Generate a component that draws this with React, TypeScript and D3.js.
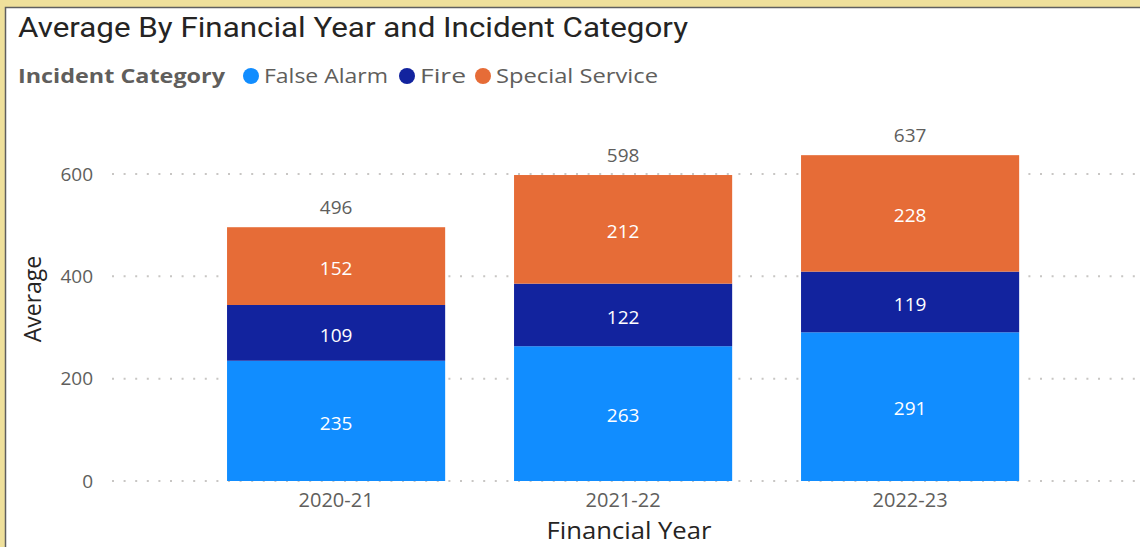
import React, { useRef, useEffect } from "react";
import * as d3 from "d3";

const years = ["2020-21", "2021-22", "2022-23"];
const categories = ["False Alarm", "Fire", "Special Service"];
const falseAlarm = [235.0, 263.4, 290.6];
const fire = [109.0, 122.3, 118.6];
const specialService = [152.0, 212.3, 227.6];
const yTicks = [0, 200, 400, 600];
const colors = ["#118DFF", "#12239E", "#E66C37"];

const W = 1140;
const H = 547;

type Row = { year: string; [key: string]: number | string };

const App: React.FC = () => {
    const svgRef = useRef<SVGSVGElement | null>(null);

    useEffect(() => {
        if (!svgRef.current) return;
        const svg = d3.select(svgRef.current);
        svg.selectAll("*").remove();

        const rows: Row[] = years.map((y, i) => ({
            year: y,
            "False Alarm": falseAlarm[i],
            "Fire": fire[i],
            "Special Service": specialService[i],
        }));

        const stack = d3.stack<Row>().keys(categories).value((d, k) => d[k] as number);
        const series = stack(rows);

        const x = d3.scaleBand()
            .domain(years)
            .range([192.6, 1053.6])
            .paddingInner(0.24)
            .paddingOuter(0.12);

        const y = d3.scaleLinear()
            .domain([0, 600])
            .range([481, 174]);

        const color = d3.scaleOrdinal<string>().domain(categories).range(colors);

        // frame
        svg.append("rect").attr("width", W).attr("height", H).attr("fill", "#EFE09B");
        svg.append("rect")
            .attr("x", 5.5).attr("y", 7.5)
            .attr("width", W + 10).attr("height", H + 10)
            .attr("fill", "#ffffff")
            .attr("stroke", "#5f5f5f")
            .attr("stroke-width", 1.5);

        const font = "'Segoe UI', 'Open Sans', sans-serif";

        // title
        svg.append("text")
            .attr("x", 18).attr("y", 37)
            .attr("font-family", "Roboto, sans-serif")
            .attr("font-size", 28)
            .attr("textLength", 670)
            .attr("lengthAdjust", "spacingAndGlyphs")
            .attr("fill", "#252423")
            .text("Average By Financial Year and Incident Category");

        // legend
        const legend = svg.append("g").attr("font-family", font).attr("font-size", 20);
        legend.append("text")
            .attr("x", 18).attr("y", 83)
            .attr("font-weight", "bold")
            .attr("fill", "#605E5C")
            .attr("textLength", 207)
            .attr("lengthAdjust", "spacingAndGlyphs")
            .text("Incident Category");
        const legendX = [251, 407, 483];
        const legendLen = [124, 46, 162];
        categories.forEach((c, i) => {
            legend.append("circle")
                .attr("cx", legendX[i]).attr("cy", 76).attr("r", 8)
                .attr("fill", color(c));
            legend.append("text")
                .attr("x", legendX[i] + 13).attr("y", 83)
                .attr("fill", "#605E5C")
                .attr("textLength", legendLen[i])
                .attr("lengthAdjust", "spacingAndGlyphs")
                .text(c);
        });

        // grid + y ticks
        const grid = svg.append("g");
        grid.selectAll("line")
            .data(yTicks)
            .enter()
            .append("line")
            .attr("x1", 112).attr("x2", W)
            .attr("y1", d => y(d)).attr("y2", d => y(d))
            .attr("stroke", "#C8C6C4")
            .attr("stroke-width", 2)
            .attr("stroke-dasharray", "2,9.6");
        grid.selectAll("text")
            .data(yTicks)
            .enter()
            .append("text")
            .attr("x", 93).attr("y", d => y(d))
            .attr("dy", "0.35em")
            .attr("text-anchor", "end")
            .attr("font-family", font)
            .attr("font-size", 19)
            .attr("fill", "#605E5C")
            .text(d => d3.format("d")(d));

        // bars
        const g = svg.append("g");
        series.forEach(s => {
            const key = s.key;
            g.selectAll(null)
                .data(s)
                .enter()
                .append("rect")
                .attr("x", d => x(d.data.year) as number)
                .attr("y", d => y(d[1]))
                .attr("width", x.bandwidth())
                .attr("height", d => y(d[0]) - y(d[1]))
                .attr("fill", color(key));
            g.selectAll(null)
                .data(s)
                .enter()
                .append("text")
                .attr("x", d => (x(d.data.year) as number) + x.bandwidth() / 2)
                .attr("y", d => (y(d[0]) + y(d[1])) / 2 + 2)
                .attr("dy", "0.35em")
                .attr("text-anchor", "middle")
                .attr("font-family", font)
                .attr("font-size", 19)
                .attr("fill", "#ffffff")
                .text(d => d3.format(".0f")(d[1] - d[0]));
        });

        // totals
        const top = series[series.length - 1];
        g.selectAll(null)
            .data(top)
            .enter()
            .append("text")
            .attr("x", d => (x(d.data.year) as number) + x.bandwidth() / 2)
            .attr("y", d => y(d[1]) - 20)
            .attr("dy", "0.35em")
            .attr("text-anchor", "middle")
            .attr("font-family", font)
            .attr("font-size", 19)
            .attr("fill", "#605E5C")
            .text(d => d3.format(".0f")(d[1]));

        // x axis labels
        svg.append("g")
            .selectAll("text")
            .data(years)
            .enter()
            .append("text")
            .attr("x", d => (x(d) as number) + x.bandwidth() / 2)
            .attr("y", 500)
            .attr("dy", "0.35em")
            .attr("text-anchor", "middle")
            .attr("font-family", font)
            .attr("font-size", 20)
            .attr("fill", "#605E5C")
            .text(d => d);

        // axis titles
        svg.append("text")
            .attr("x", 629).attr("y", 539)
            .attr("text-anchor", "middle")
            .attr("font-family", font)
            .attr("font-size", 23)
            .attr("textLength", 165)
            .attr("lengthAdjust", "spacingAndGlyphs")
            .attr("fill", "#252423")
            .text("Financial Year");
        svg.append("text")
            .attr("transform", "translate(41,299) rotate(-90)")
            .attr("text-anchor", "middle")
            .attr("font-family", font)
            .attr("font-size", 23)
            .attr("fill", "#252423")
            .text("Average");
    }, []);

    return (
        <svg
            ref={svgRef}
            width={W}
            height={H}
            style={{ position: "absolute", left: 0, top: 0, display: "block" }}
        />
    );
};

export default App;
